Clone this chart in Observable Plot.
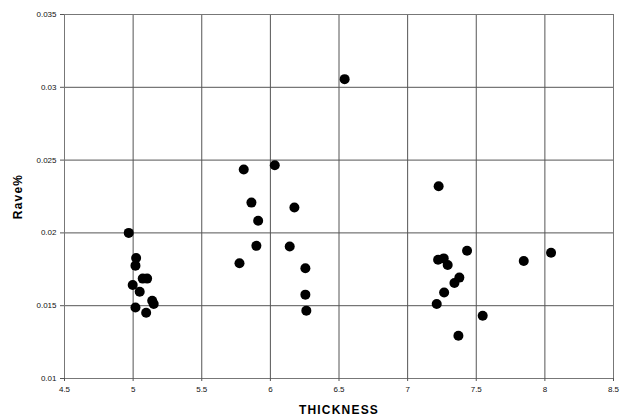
<!DOCTYPE html>
<html><head><meta charset="utf-8">
<script src="https://cdn.jsdelivr.net/npm/d3@7"></script>
<script src="https://cdn.jsdelivr.net/npm/@observablehq/plot@0.6"></script>
<style>
body{margin:0;background:#fff}
g[aria-label="x-axis label"] text, g[aria-label="y-axis label"] text{font-size:12px;font-weight:bold;letter-spacing:1.2px;fill:#000}
</style>
</head><body><div id="chart"></div>
<script>
const thickness = [
  4.968, 5.022, 5.017, 5.070, 5.102, 4.997, 5.048, 5.139, 5.150, 5.017, 5.095,
  6.032, 5.806, 5.862, 6.175, 5.911, 5.898, 6.141, 5.775, 6.255, 6.255, 6.262,
  6.541,
  7.226, 7.433, 8.045, 7.222, 7.263, 7.292, 7.846, 7.377, 7.341, 7.266, 7.212, 7.547, 7.370
];
const rave = [
  0.0200, 0.01828, 0.01775, 0.01686, 0.01686, 0.01642, 0.01596, 0.01534, 0.01512, 0.01488, 0.01452,
  0.02465, 0.02435, 0.02208, 0.02174, 0.02083, 0.01911, 0.01906, 0.01791, 0.01757, 0.01576, 0.01466,
  0.03056,
  0.0232, 0.01878, 0.01864, 0.01816, 0.01825, 0.0178, 0.01807, 0.01693, 0.01656, 0.01591, 0.01512, 0.01431, 0.01294
];
const xTicks = [4.5, 5, 5.5, 6, 6.5, 7, 7.5, 8, 8.5];
const yTicks = [0.01, 0.015, 0.02, 0.025, 0.03, 0.035];
const xLabel = "THICKNESS";
const yLabel = "Rave%";

const data = thickness.map((t, i) => ({thickness: t, rave: rave[i]}));

const chart = Plot.plot({
  width: 626, height: 419,
  marginLeft: 64, marginRight: 13, marginTop: 14, marginBottom: 41,
  x: {domain: [4.5, 8.5]},
  y: {domain: [0.01, 0.035]},
  style: {fontFamily: "'Liberation Sans', Arial, sans-serif", fontSize: "8px", color: "#111", background: "#fff"},
  marks: [
    Plot.gridX(xTicks, {stroke: "#555", strokeOpacity: 1}),
    Plot.gridY(yTicks, {stroke: "#555", strokeOpacity: 1}),
    Plot.frame({stroke: "#777"}),
    Plot.axisX(xTicks, {tickSize: 3, tickPadding: 5, tickFormat: d => String(d), label: xLabel, labelAnchor: "center", labelArrow: "none", labelOffset: 35, stroke: "#555"}),
    Plot.axisY(yTicks, {tickSize: 4, tickPadding: 4, tickFormat: d => String(+d.toFixed(3)), label: yLabel, labelAnchor: "center", labelArrow: "none", labelOffset: 51, stroke: "#555"}),
    Plot.dot(data, {x: "thickness", y: "rave", r: 5, fill: "#000"})
  ]
});
document.getElementById("chart").append(chart);
</script>
</body></html>
